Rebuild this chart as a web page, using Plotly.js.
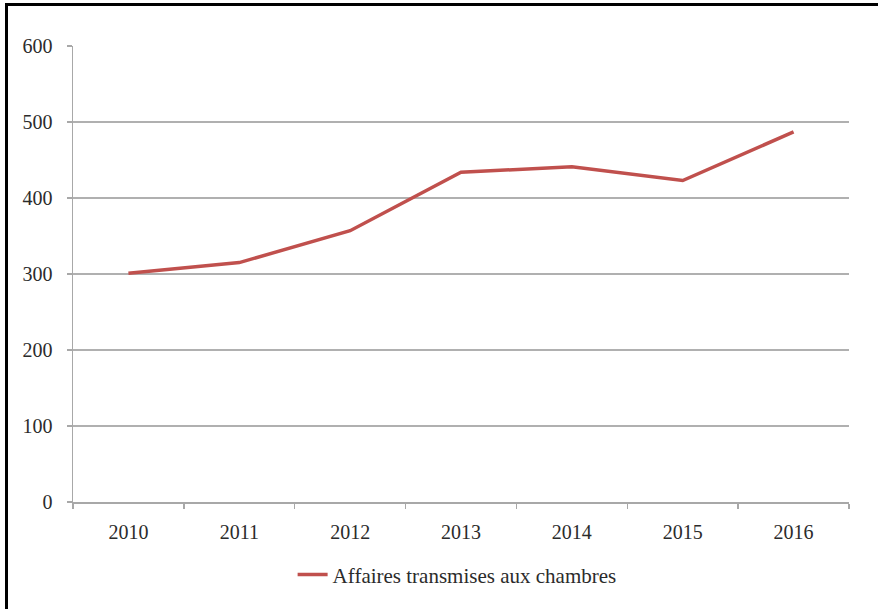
<!DOCTYPE html>
<html>
<head>
<meta charset="utf-8">
<script src="https://cdn.plot.ly/plotly-3.0.1.min.js"></script>
<style>
html,body{margin:0;padding:0;background:#fff;}
#wrap{position:relative;width:878px;height:609px;}
#chart{position:absolute;left:0;top:0;width:878px;height:609px;}
#frame{position:absolute;left:5px;top:3px;width:880px;height:610px;border-left:3px solid #000;border-top:3px solid #000;pointer-events:none;}
</style>
</head>
<body>
<div id="wrap"><div id="chart"></div><div id="frame"></div></div>
<script>
const years = ["2010","2011","2012","2013","2014","2015","2016"];
const affaires = [301, 315, 357, 434, 441, 423, 487];
const seriesName = "Affaires transmises aux chambres";
const yTicks = [0, 100, 200, 300, 400, 500, 600];

const trace = {
  x: years, y: affaires, type: "scatter", mode: "lines", name: seriesName,
  line: {color: "#C0504D", width: 3.5}
};
const font = {family: "Liberation Serif, Times New Roman, serif", size: 20, color: "#2b2b2b"};
const layout = {
  width: 878, height: 609,
  margin: {l: 73, r: 29, t: 46, b: 107},
  paper_bgcolor: "#fff", plot_bgcolor: "#fff",
  font: font,
  showlegend: true,
  legend: {orientation: "h", x: 0.495, xanchor: "center", y: -0.16, yanchor: "middle",
           font: {family: font.family, size: 21, color: "#2b2b2b"}},
  xaxis: {
    type: "category", range: [-0.5, 6.5], showgrid: false,
    showline: true, linecolor: "#a8a8a8", linewidth: 2,
    ticks: "outside", tickson: "boundaries", ticklen: 5, tickcolor: "#a8a8a8", tickwidth: 1.5,
    ticklabelstandoff: 11, zeroline: false
  },
  yaxis: {
    range: [0, 600], tickvals: yTicks, showgrid: true, gridcolor: "#b0b0b0", gridwidth: 1.5,
    showline: true, linecolor: "#a8a8a8", linewidth: 1.5,
    ticks: "outside", ticklen: 5, tickcolor: "#a8a8a8", tickwidth: 1.5,
    ticklabelstandoff: 10, zeroline: false
  }
};
Plotly.newPlot("chart", [trace], layout, {displayModeBar: false, staticPlot: true});
</script>
</body>
</html>
